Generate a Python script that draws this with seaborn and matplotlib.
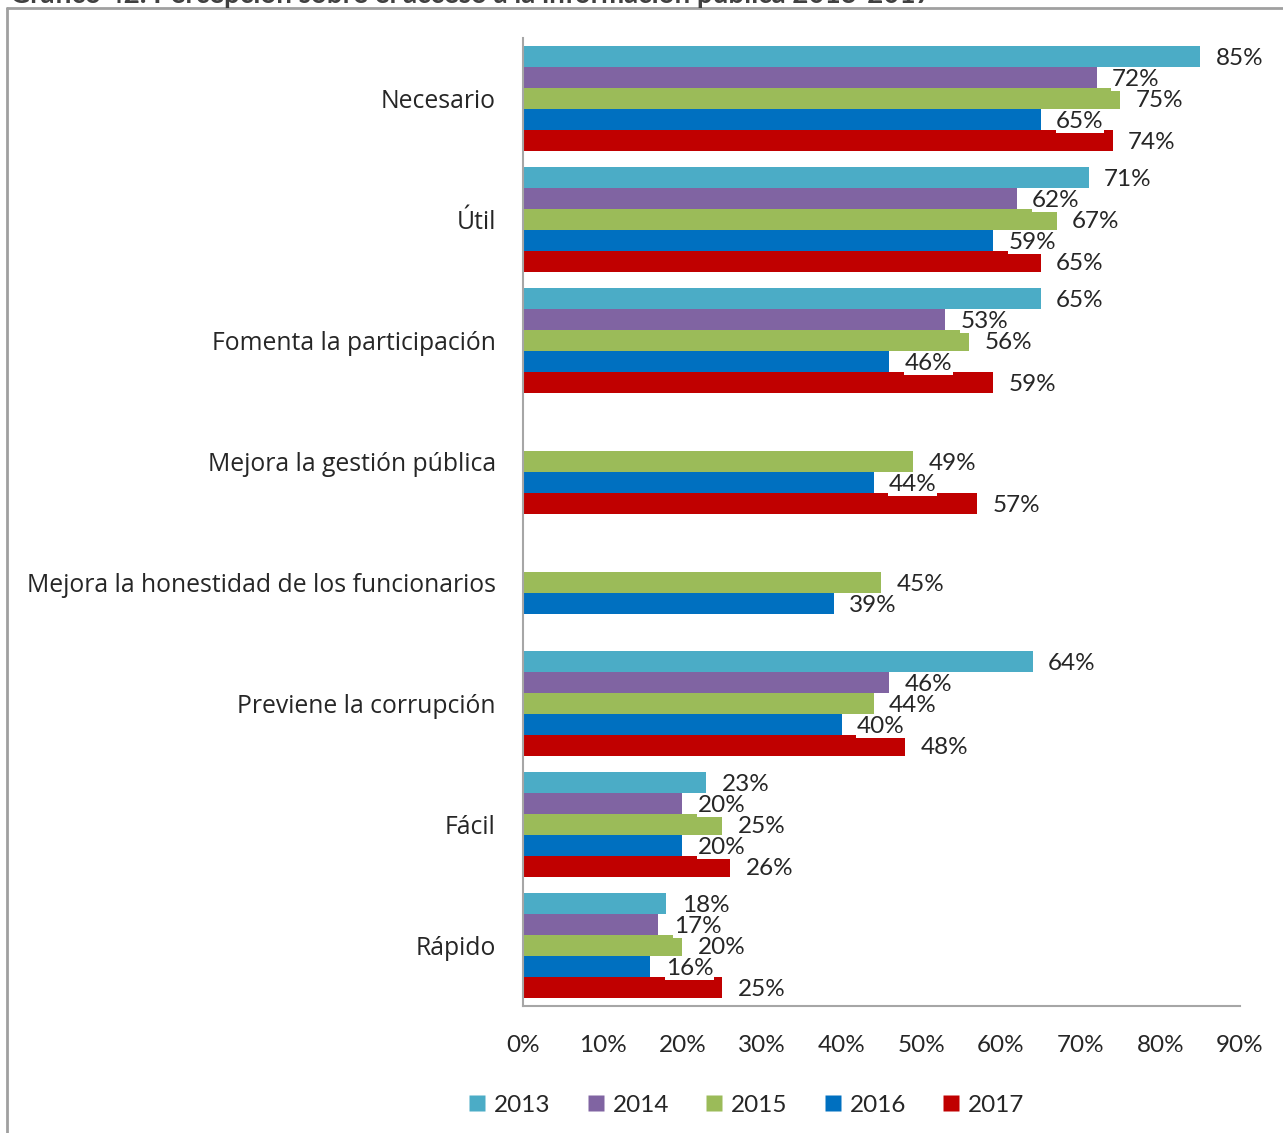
import pandas as pd
import numpy as np
import matplotlib
matplotlib.use('Agg')
import matplotlib.pyplot as plt
from matplotlib.lines import Line2D
import seaborn as sns

# Data (percent)
categories = ['Necesario', 'Útil', 'Fomenta la participación', 'Mejora la gestión pública',
              'Mejora la honestidad de los funcionarios', 'Previene la corrupción', 'Fácil', 'Rápido']
years = ['2013', '2014', '2015', '2016', '2017']
v2013 = [85, 71, 65, np.nan, np.nan, 64, 23, 18]
v2014 = [72, 62, 53, np.nan, np.nan, 46, 20, 17]
v2015 = [75, 67, 56, 49, 45, 44, 25, 20]
v2016 = [65, 59, 46, 44, 39, 40, 20, 16]
v2017 = [74, 65, 59, 57, np.nan, 48, 26, 25]
colors = {'2013': '#4BACC6', '2014': '#8064A2', '2015': '#9BBB59', '2016': '#0070C0', '2017': '#C00000'}

series = dict(zip(years, [v2013, v2014, v2015, v2016, v2017]))
rows = []
for y, vals in series.items():
    for c, v in zip(categories, vals):
        rows.append({'category': c, 'year': y, 'value': v})
df = pd.DataFrame(rows)

sns.set_style('white')
plt.rcParams['font.family'] = ['Open Sans', 'DejaVu Sans']

fig = plt.figure(figsize=(12.83, 11.33), dpi=100)
ax = fig.add_axes([523/1283, 1 - 1006/1133, (1240 - 523)/1283, (1006 - 38)/1133])

sns.barplot(data=df, x='value', y='category', hue='year', order=categories, hue_order=years,
            palette=colors, saturation=1, orient='h', width=0.87, linewidth=0, ax=ax, legend=False)

# value labels with a white box, nudged a little below the bar centre like the original
for cont in ax.containers:
    texts = ax.bar_label(cont, fmt=lambda v: f'{v:.0f}%', padding=11, fontsize=17.5, family='Lato',
                         bbox=dict(facecolor='white', edgecolor='none', pad=0.3))
    for t in texts:
        x, y = t.get_position()
        t.set_position((x, y - 1.5))

ax.set_xlim(0, 90)
ax.set_ylim(7.5, -0.5)
ax.set_xticks(range(0, 91, 10))
ax.set_xticklabels([f'{t}%' for t in range(0, 91, 10)], family='Lato', fontsize=17.5)
ax.tick_params(axis='x', length=0, pad=21)
ax.tick_params(axis='y', length=0, pad=19.5, labelsize=17.8)
ax.set_xlabel('')
ax.set_ylabel('')
for s in ['top', 'right']:
    ax.spines[s].set_visible(False)
for s in ['left', 'bottom']:
    ax.spines[s].set_color('#A6A6A6')
    ax.spines[s].set_linewidth(1.5)

handles = [Line2D([0], [0], marker='s', linestyle='none', markersize=12,
                  markerfacecolor=colors[y], markeredgecolor='none') for y in years]
fig.legend(handles, years, loc='center', bbox_to_anchor=(746/1283, 1 - 1105/1133), ncol=5,
           frameon=False, prop={'family': 'Lato', 'size': 17.5}, handletextpad=0.3,
           columnspacing=1.45, handlelength=0.8)

# outer frame and clipped title at the top
fig.add_artist(Line2D([7/1283, 7/1283], [0, 1 - 8/1133], transform=fig.transFigure,
                      color='#A0A0A0', linewidth=2))
fig.add_artist(Line2D([7/1283, 1], [1 - 8/1133, 1 - 8/1133], transform=fig.transFigure,
                      color='#A0A0A0', linewidth=2))
fig.text(10/1283, 1 - 3/1133, 'Gráfico 42. Percepción sobre el acceso a la información pública 2013-2017',
         ha='left', va='baseline', fontsize=20, fontweight='bold', color='#404040', family='Lato')

fig.savefig('out.png', dpi=100, facecolor='white')
